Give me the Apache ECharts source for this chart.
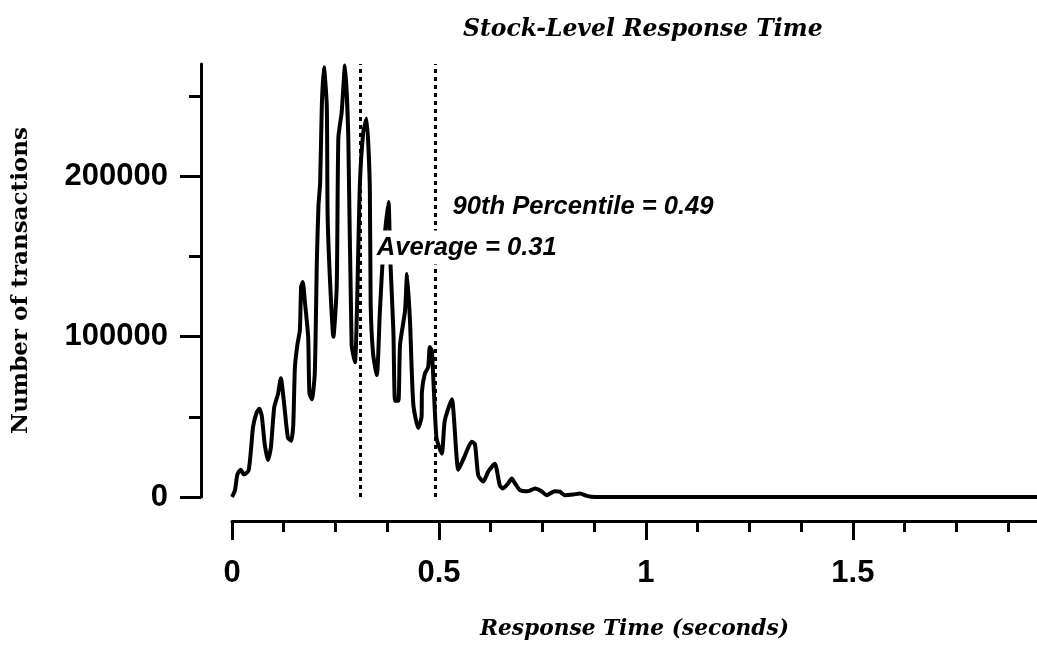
<!DOCTYPE html>
<html>
<head>
<meta charset="utf-8">
<script src="https://cdn.jsdelivr.net/npm/echarts@6/dist/echarts.min.js"></script>
<style>
html, body { margin: 0; padding: 0; background: #fff; }
#chart { width: 1037px; height: 645px; }
</style>
</head>
<body>
<div id="chart"></div>
<script>
// response time (seconds) and number of transactions
const times = [0.000, 0.007, 0.013, 0.021, 0.029, 0.040, 0.046, 0.051, 0.060, 0.066, 0.072, 0.079, 0.087, 0.094,
  0.102, 0.111, 0.118, 0.126, 0.135, 0.143, 0.148, 0.152, 0.158, 0.164, 0.167, 0.171, 0.176, 0.184, 0.187, 0.193,
  0.200, 0.205, 0.209, 0.213, 0.217, 0.222, 0.229, 0.231, 0.237, 0.245, 0.253, 0.257, 0.265, 0.273, 0.281, 0.289,
  0.297, 0.309, 0.317, 0.325, 0.333, 0.335, 0.341, 0.350, 0.357, 0.365, 0.378, 0.382, 0.390, 0.394, 0.402, 0.406,
  0.418, 0.423, 0.430, 0.438, 0.450, 0.458, 0.459, 0.466, 0.474, 0.478, 0.483, 0.494, 0.507, 0.514, 0.531, 0.547,
  0.563, 0.579, 0.587, 0.595, 0.607, 0.619, 0.635, 0.647, 0.655, 0.667, 0.676, 0.684, 0.696, 0.716, 0.732, 0.748,
  0.760, 0.780, 0.792, 0.804, 0.824, 0.841, 0.857, 0.877, 1.945];
const counts = [0, 4000, 14000, 17000, 14000, 16500, 30000, 44000, 53000, 55000, 50500, 33000, 23000, 31000,
  56000, 64000, 74000, 58000, 37000, 35000, 45000, 81000, 95000, 104000, 131000, 134000, 122000, 100000, 65000, 61000,
  77000, 147000, 182000, 196000, 244000, 268000, 244000, 176000, 134000, 100000, 131000, 224000, 240000, 269000, 224000, 95000,
  84000, 195000, 227000, 236000, 193000, 120000, 89000, 76000, 114000, 151000, 184000, 151000, 103000, 60000, 60000, 95000,
  116000, 139000, 110000, 58000, 43000, 50000, 66000, 77000, 81000, 93500, 91000, 37000, 27000, 47500, 61000, 17000,
  26000, 34500, 33000, 13500, 9600, 15800, 20800, 7300, 5300, 8400, 11500, 8400, 4200, 3600, 5300, 3600,
  1100, 3600, 3300, 1100, 1500, 2200, 700, 0, 0];

const averageTime = 0.31;
const percentile90 = 0.49;

const xMajorTicks = [0, 0.5, 1, 1.5];
const xMinorTicks = [0.125, 0.25, 0.375, 0.625, 0.75, 0.875, 1.125, 1.25, 1.375, 1.625, 1.75, 1.875];
const yMajorTicks = [0, 100000, 200000];
const yMinorTicks = [50000, 150000, 250000];

const chart = echarts.init(document.getElementById('chart'));

const sansBold = { fontFamily: 'Liberation Sans', fontWeight: 'bold', color: '#000' };
const serifBI = { fontFamily: 'DejaVu Serif', fontWeight: 'bold', fontStyle: 'italic', color: '#000' };

const option = {
  animation: false,
  backgroundColor: '#fff',
  title: {
    text: 'Stock-Level Response Time',
    left: 458,
    top: 13,
    textStyle: Object.assign({ fontSize: 23.5 }, serifBI)
  },
  grid: { left: 232, right: 0, top: 64, bottom: 146, containLabel: false },
  xAxis: [
    {
      type: 'value', min: 0, max: 1.945, offset: 24,
      axisLine: { onZero: false, lineStyle: { color: '#000', width: 3 } },
      axisTick: { show: true, inside: false, length: 19, lineStyle: { color: '#000', width: 3 }, customValues: xMajorTicks },
      axisLabel: Object.assign({ fontSize: 31, margin: 37, customValues: xMajorTicks, formatter: v => String(v) }, sansBold),
      splitLine: { show: false },
      name: 'Response Time (seconds)',
      nameLocation: 'middle',
      nameGap: 97,
      nameTextStyle: Object.assign({ fontSize: 21.7 }, serifBI)
    },
    {
      type: 'value', min: 0, max: 1.945, offset: 24, position: 'bottom',
      axisLine: { show: false, onZero: false },
      axisTick: { show: true, inside: false, length: 11, lineStyle: { color: '#000', width: 3 }, customValues: xMinorTicks },
      axisLabel: { show: false },
      splitLine: { show: false }
    }
  ],
  yAxis: [
    {
      type: 'value', min: 0, max: 270000, offset: 31,
      axisLine: { show: true, onZero: false, lineStyle: { color: '#000', width: 3 } },
      axisTick: { show: true, length: 21, lineStyle: { color: '#000', width: 3 }, customValues: yMajorTicks },
      axisLabel: Object.assign({ fontSize: 31, margin: 33, customValues: yMajorTicks, formatter: v => String(v) }, sansBold),
      splitLine: { show: false },
      name: 'Number of transactions',
      nameLocation: 'middle',
      nameGap: 168,
      nameTextStyle: { fontFamily: 'DejaVu Serif', fontWeight: 'bold', fontSize: 23, color: '#000' }
    },
    {
      type: 'value', min: 0, max: 270000, offset: 31, position: 'left',
      axisLine: { show: false, onZero: false },
      axisTick: { show: true, length: 12, lineStyle: { color: '#000', width: 3 }, customValues: yMinorTicks },
      axisLabel: { show: false },
      splitLine: { show: false }
    }
  ],
  series: [
    {
      type: 'line',
      data: times.map((t, i) => [t, counts[i]]),
      showSymbol: false,
      smooth: 0.2,
      clip: false,
      lineStyle: { color: '#000', width: 4 },
      markLine: {
        silent: true,
        symbol: 'none',
        label: { show: false },
        lineStyle: { color: '#000', width: 3, type: [4, 4] },
        data: [
          { xAxis: averageTime },
          { xAxis: percentile90 }
        ]
      },
      markPoint: {
        z: 10,
        symbol: 'circle',
        symbolSize: 0,
        label: Object.assign({
          show: true, position: 'right', distance: 0, fontSize: 25.6, fontStyle: 'italic',
          backgroundColor: '#fff', padding: [4, 2]
        }, sansBold),
        data: [
          { coord: [0.528, 181000], value: '90th Percentile = ' + percentile90.toFixed(2) },
          { coord: [0.345, 155600], value: 'Average = ' + averageTime.toFixed(2) }
        ]
      }
    }
  ]
};

chart.setOption(option);
</script>
</body>
</html>
